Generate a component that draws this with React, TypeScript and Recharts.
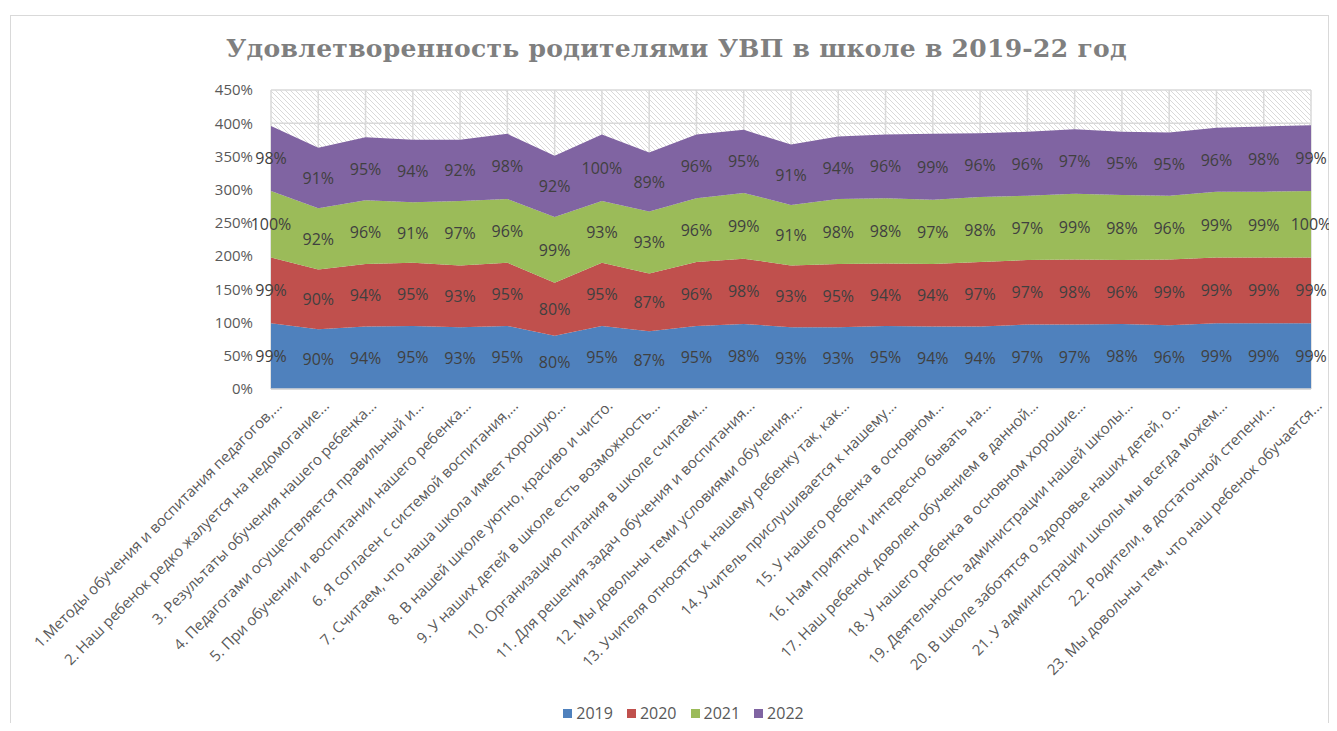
import React from 'react';
import { AreaChart, Area, Line, XAxis, YAxis, CartesianGrid, Legend, LabelList } from 'recharts';

const categories = [
  '1.Методы обучения и воспитания педагогов,...',
  '2. Наш ребенок редко жалуется на недомогание...',
  '3. Результаты обучения нашего ребенка...',
  '4. Педагогами осуществляется правильный и...',
  '5. При обучении и воспитании нашего ребенка...',
  '6. Я согласен с системой воспитания,...',
  '7. Считаем, что наша школа имеет хорошую...',
  '8. В нашей школе уютно, красиво и чисто.',
  '9. У наших детей в школе есть возможность...',
  '10. Организацию питания в школе считаем...',
  '11. Для решения задач обучения и воспитания...',
  '12. Мы довольны теми условиями обучения,...',
  '13. Учителя относятся к нашему ребенку так, как...',
  '14. Учитель прислушивается к нашему...',
  '15. У нашего ребенка в основном...',
  '16. Нам приятно и интересно бывать на...',
  '17. Наш ребенок доволен обучением в данной...',
  '18. У нашего ребенка в основном хорошие...',
  '19. Деятельность администрации нашей школы...',
  '20. В школе заботятся о здоровье наших детей, о...',
  '21. У администрации школы мы всегда можем...',
  '22. Родители, в достаточной степени...',
  '23. Мы довольны тем, что наш ребенок обучается...',
];

const years = ['2019', '2020', '2021', '2022'];
const values2019 = [99, 90, 94, 95, 93, 95, 80, 95, 87, 95, 98, 93, 93, 95, 94, 94, 97, 97, 98, 96, 99, 99, 99];
const values2020 = [99, 90, 94, 95, 93, 95, 80, 95, 87, 96, 98, 93, 95, 94, 94, 97, 97, 98, 96, 99, 99, 99, 99];
const values2021 = [100, 92, 96, 91, 97, 96, 99, 93, 93, 96, 99, 91, 98, 98, 97, 98, 97, 99, 98, 96, 99, 99, 100];
const values2022 = [98, 91, 95, 94, 92, 98, 92, 100, 89, 96, 95, 91, 94, 96, 99, 96, 96, 97, 95, 95, 96, 98, 99];
const yTicks = [0, 50, 100, 150, 200, 250, 300, 350, 400, 450];
const title = 'Удовлетворенность родителями УВП в школе в 2019-22 год';

const seriesValues = [values2019, values2020, values2021, values2022];
const colors = ['#4f81bd', '#c0504d', '#9bbb59', '#8064a2'];

const data = categories.map((name, i) => {
  const row: Record<string, any> = { name };
  let base = 0;
  years.forEach((yr, s) => {
    const v = seriesValues[s][i];
    row['y' + yr] = v;
    row['m' + yr] = base + v / 2;
    base += v;
  });
  return row;
});

const XTick = (props: any) => {
  const { x, y, payload } = props;
  return (
    <g transform={`translate(${x + 8},${y + 14})`}>
      <text transform="rotate(-45)" textAnchor="end" dy="0.35em" fill="#595959" fontSize={15} fontFamily="Open Sans">
        {payload.value}
      </text>
    </g>
  );
};

const renderLabel = (props: any) => {
  const x = props.x ?? props.viewBox?.x;
  const y = props.y ?? props.viewBox?.y;
  return (
    <text x={x} y={y} textAnchor="middle" dominantBaseline="central" fill="#404040" fontSize={16} fontFamily="Open Sans">
      {props.value}%
    </text>
  );
};

const LegendContent = () => (
  <div style={{ display: 'flex', justifyContent: 'center', alignItems: 'center', height: 20, width: 1321, transform: 'translateX(22px)' }}>
    {years.map((yr, i) => (
      <div key={yr} style={{ display: 'flex', alignItems: 'center', marginRight: 14 }}>
        <div style={{ width: 9, height: 9, background: colors[i], marginRight: 4 }} />
        <span style={{ fontFamily: 'Open Sans', fontSize: 16, color: '#595959' }}>{yr}</span>
      </div>
    ))}
  </div>
);

export default function App() {
  return (
    <div style={{ position: 'relative', width: 1321, height: 715 }}>
      <style>{`.recharts-surface{overflow:visible}`}</style>
      <div
        style={{
          position: 'absolute', left: 2, top: 7, width: 1319, height: 708,
          borderTop: '1px solid #d9d9d9', borderLeft: '1px solid #d9d9d9', borderRight: '1px solid #d9d9d9',
          boxSizing: 'border-box',
        }}
      />
      <div
        style={{
          position: 'absolute', left: 0, top: 28, width: 1337, textAlign: 'center',
          fontFamily: 'DejaVu Serif', fontWeight: 'bold', fontSize: 25, lineHeight: '25px',
          color: '#7f7f7f', letterSpacing: 0.3, whiteSpace: 'nowrap',
        }}
      >
        {title}
      </div>
      <AreaChart width={1321} height={715} data={data} margin={{ top: 82, right: 18, left: 203, bottom: 0 }}>
        <defs>
          <pattern id="hatch" patternUnits="userSpaceOnUse" width="5" height="5">
            <rect width="5" height="5" fill="#ffffff" />
            <path d="M0,0 L5,5 M-1,4 L1,6 M4,-1 L6,1" stroke="#cfcfcf" strokeWidth="0.8" />
          </pattern>
        </defs>
        <CartesianGrid fill="url(#hatch)" stroke="#d9d9d9" strokeWidth={1.5} />
        <XAxis
          dataKey="name"
          interval={0}
          tick={<XTick />}
          tickLine={false}
          tickSize={0}
          tickMargin={0}
          height={314}
          axisLine={{ stroke: '#d9d9d9', strokeWidth: 1.5 }}
        />
        <YAxis
          domain={[0, 450]}
          ticks={yTicks}
          tickFormatter={(v: number) => `${v}%`}
          axisLine={false}
          tickLine={false}
          tickSize={0}
          tickMargin={18}
          width={60}
          tick={{ fill: '#595959', fontSize: 15, fontFamily: 'Open Sans' }}
        />
        {years.map((yr, i) => (
          <Area
            key={yr}
            type="linear"
            dataKey={'y' + yr}
            name={yr}
            stackId="1"
            stroke="none"
            fill={colors[i]}
            fillOpacity={1}
            isAnimationActive={false}
          />
        ))}
        {years.map((yr) => (
          <Line
            key={'m' + yr}
            type="linear"
            dataKey={'m' + yr}
            stroke="none"
            dot={false}
            activeDot={false}
            legendType="none"
            isAnimationActive={false}
          >
            <LabelList dataKey={'y' + yr} content={renderLabel} />
          </Line>
        ))}
        <Legend verticalAlign="bottom" wrapperStyle={{ left: 0, width: 1321 }} content={<LegendContent />} />
      </AreaChart>
    </div>
  );
}
